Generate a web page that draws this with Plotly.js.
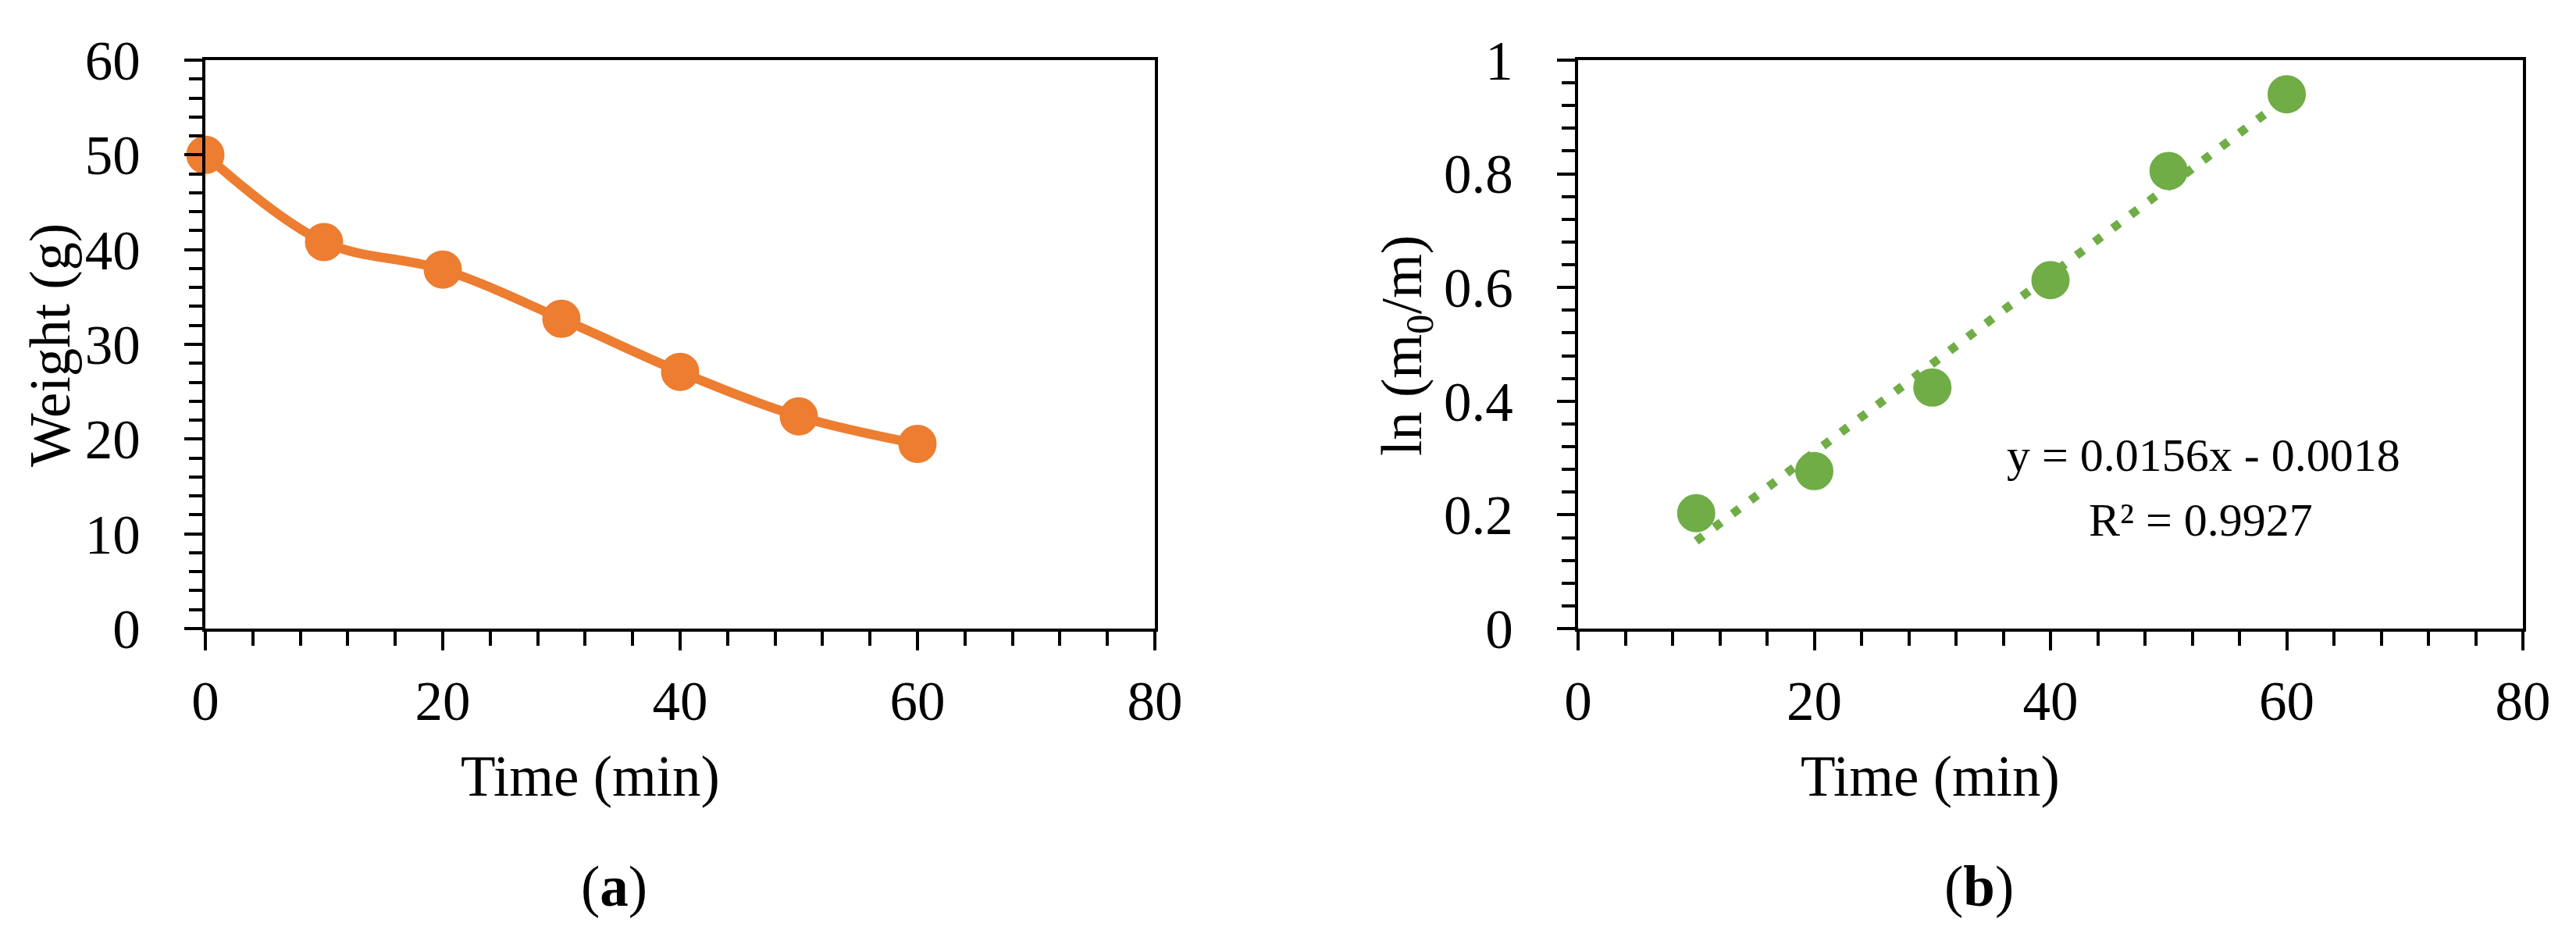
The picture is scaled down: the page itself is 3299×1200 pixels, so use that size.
<!DOCTYPE html>
<html>
<head>
<meta charset="utf-8">
<script src="https://cdn.plot.ly/plotly-3.0.1.min.js"></script>
<style>
  html, body { margin: 0; padding: 0; background: #fff; }
  #chart { width: 3299px; height: 1200px; }
</style>
</head>
<body>
<div id="chart"></div>
<script>
// Data
const timeA = [0, 10, 20, 30, 40, 50, 60];
const weightA = [50.0, 40.8, 37.9, 32.7, 27.1, 22.4, 19.5];

const timeB = [10, 20, 30, 40, 50, 60];
const lnRatioB = [0.203, 0.277, 0.424, 0.613, 0.805, 0.940];

// Linear trendline end points (y = 0.0156x - 0.0018)
const trendX = [10, 60];
const trendY = [0.154, 0.934];

const equationText = 'y = 0.0156x - 0.0018';
const r2Text = 'R² = 0.9927';

const W = 3299, H = 1200;
const FONT = 'Liberation Serif, Times New Roman, serif';
const ORANGE = '#ED7D31';
const GREEN = '#70AD47';

// pixel helpers for paper coords
const px = x => x / W;
const py = y => 1 - y / H;

function axisStyle(extra) {
  return Object.assign({
    showline: true,
    linecolor: '#000',
    linewidth: 4,
    mirror: true,
    showgrid: false,
    zeroline: false,
    ticks: 'outside',
    tickcolor: '#000',
    tickwidth: 4,
    ticklen: 24,
    tickfont: { family: FONT, size: 71, color: '#000' },
    fixedrange: true
  }, extra);
}

const traces = [
  {
    type: 'scatter',
    mode: 'lines+markers',
    x: timeA,
    y: weightA,
    xaxis: 'x',
    yaxis: 'y',
    cliponaxis: false,
    line: { color: ORANGE, width: 12, shape: 'spline', smoothing: 1 },
    marker: { color: ORANGE, size: 47, line: { color: ORANGE, width: 2 } },
    hoverinfo: 'skip'
  },
  {
    type: 'scatter',
    mode: 'lines',
    x: trendX,
    y: trendY,
    xaxis: 'x2',
    yaxis: 'y2',
    line: { color: GREEN, width: 11, dash: '11px,18px' },
    hoverinfo: 'skip'
  },
  {
    type: 'scatter',
    mode: 'markers',
    x: timeB,
    y: lnRatioB,
    xaxis: 'x2',
    yaxis: 'y2',
    cliponaxis: false,
    marker: { color: GREEN, size: 47, line: { color: GREEN, width: 2 } },
    hoverinfo: 'skip'
  }
];

const textFont = { family: FONT, size: 73, color: '#000' };

const layout = {
  width: W,
  height: H,
  margin: { l: 0, r: 0, t: 0, b: 0 },
  paper_bgcolor: '#fff',
  plot_bgcolor: '#fff',
  showlegend: false,
  xaxis: axisStyle({
    domain: [px(263), px(1479)],
    anchor: 'y',
    range: [0, 80],
    dtick: 20,
    ticklabelstandoff: 4,
    minor: { dtick: 4, ticks: 'outside', ticklen: 18, tickwidth: 4, tickcolor: '#000' }
  }),
  yaxis: axisStyle({
    domain: [py(805), py(77)],
    anchor: 'x',
    range: [0, 60],
    dtick: 10,
    ticklen: 23,
    ticklabelstandoff: 42,
    minor: { dtick: 2, ticks: 'outside', ticklen: 17, tickwidth: 4, tickcolor: '#000' }
  }),
  xaxis2: axisStyle({
    domain: [px(2021), px(3231)],
    anchor: 'y2',
    range: [0, 80],
    dtick: 20,
    ticklabelstandoff: 4,
    minor: { dtick: 4, ticks: 'outside', ticklen: 18, tickwidth: 4, tickcolor: '#000' }
  }),
  yaxis2: axisStyle({
    domain: [py(805), py(77)],
    anchor: 'x2',
    range: [0, 1],
    dtick: 0.2,
    ticklen: 23,
    ticklabelstandoff: 42,
    minor: { dtick: 0.04, ticks: 'outside', ticklen: 17, tickwidth: 4, tickcolor: '#000' }
  }),
  annotations: [
    { text: 'Time (min)', xref: 'paper', yref: 'paper', x: px(756), y: py(994),
      xanchor: 'center', yanchor: 'middle', showarrow: false, font: textFont },
    { text: 'Time (min)', xref: 'paper', yref: 'paper', x: px(2472), y: py(994),
      xanchor: 'center', yanchor: 'middle', showarrow: false, font: textFont },
    { text: 'Weight (g)', xref: 'paper', yref: 'paper', x: px(64), y: py(442),
      xanchor: 'center', yanchor: 'middle', textangle: -90, showarrow: false, font: textFont },
    { text: 'ln (m<sub>0</sub>/m)', xref: 'paper', yref: 'paper', x: px(1800), y: py(443),
      xanchor: 'center', yanchor: 'middle', textangle: -90, showarrow: false, font: textFont },
    { text: '(<b>a</b>)', xref: 'paper', yref: 'paper', x: px(786), y: py(1135),
      xanchor: 'center', yanchor: 'middle', showarrow: false, font: textFont },
    { text: '(<b>b</b>)', xref: 'paper', yref: 'paper', x: px(2534), y: py(1135),
      xanchor: 'center', yanchor: 'middle', showarrow: false, font: textFont },
    { text: equationText, xref: 'paper', yref: 'paper', x: px(2822), y: py(583),
      xanchor: 'center', yanchor: 'middle', showarrow: false,
      font: { family: FONT, size: 60, color: '#000' } },
    { text: r2Text, xref: 'paper', yref: 'paper', x: px(2818), y: py(666),
      xanchor: 'center', yanchor: 'middle', showarrow: false,
      font: { family: FONT, size: 60, color: '#000' } }
  ]
};

Plotly.newPlot('chart', traces, layout, { staticPlot: true, displayModeBar: false });
</script>
</body>
</html>
